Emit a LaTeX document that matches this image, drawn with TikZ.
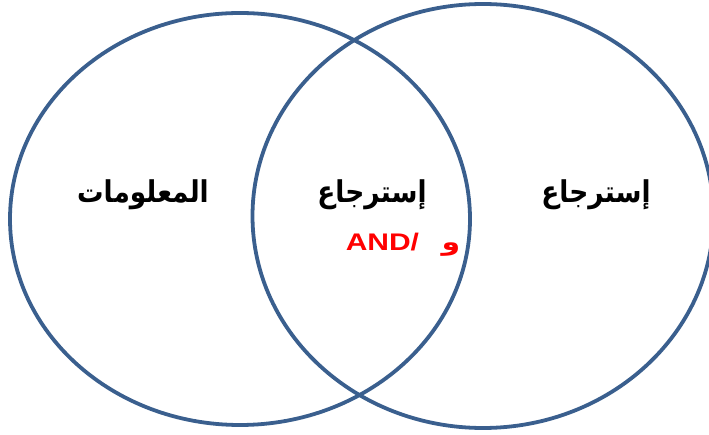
\documentclass[tikz,border=0pt]{standalone}
\usepackage{fontspec}
\setmainfont{Liberation Sans}
\newfontfamily\arabicfont[Script=Arabic]{DejaVu Sans}
\TeXXeTstate=1
\definecolor{ringblue}{HTML}{3A5F8E}
\definecolor{andred}{HTML}{FF0000}

\begin{document}
\begin{tikzpicture}[x=1pt, y=-1pt,
    ring/.style={draw=ringblue, line width=3.8pt},
    arlabel/.style={draw=none, anchor=base, xscale=0.88, font=\arabicfont\bfseries\fontsize{30}{34}\selectfont},
    andlabel/.style={draw=none, anchor=base, xscale=1.25, text=andred, font=\bfseries\fontsize{24}{28}\selectfont}]
             \useasboundingbox (0,0) rectangle (709,435);

             % the two sets
             \draw[ring] (240,219) ellipse [x radius=230, y radius=206];
             \draw[ring] (483,216) ellipse [x radius=230.5, y radius=212];

             \node[arlabel] (info) at (143,203) {\beginR المعلومات\endR};
             \node[arlabel] (both) at (372,203) {\beginR إسترجاع\endR};
             \node[arlabel] (retr) at (596,203) {\beginR إسترجاع\endR};

             \node[andlabel] (and) at (403,251) {\beginR{\arabicfont و}\hspace{18pt}/\beginL AND\endL\endR};
\end{tikzpicture}
\end{document}
